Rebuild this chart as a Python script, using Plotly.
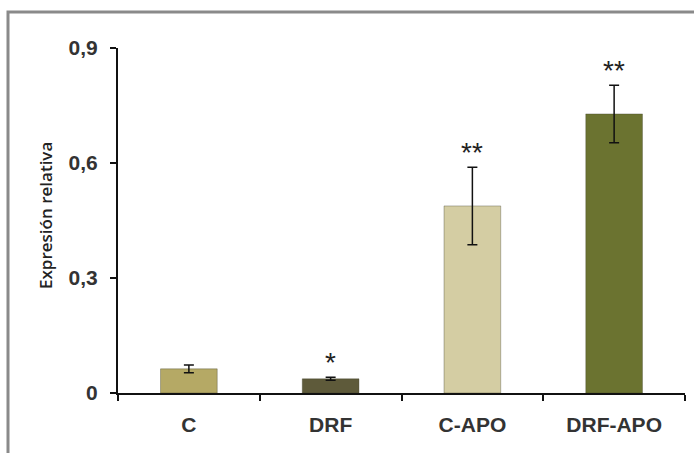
import plotly.graph_objects as go

categories = ["C", "DRF", "C-APO", "DRF-APO"]
values = [0.063, 0.037, 0.488, 0.728]
errors = [0.010, 0.004, 0.101, 0.075]
significance = ["", "*", "**", "**"]
bar_colors = ["#b5a965", "#5e5a3a", "#d4cda3", "#6b7330"]
y_ticks = [0, 0.3, 0.6, 0.9]
y_tick_text = ["0", "0,3", "0,6", "0,9"]

W, H = 694, 453
ml, mr, mt, mb = 118, 9, 48, 60
pw, ph = W - ml - mr, H - mt - mb

fig = go.Figure()
fig.add_trace(go.Bar(
    x=categories, y=values,
    marker=dict(color=bar_colors, line=dict(color="rgba(60,60,40,0.35)", width=1)),
    error_y=dict(type="data", array=errors, color="#111111", thickness=1.5, width=5),
    width=0.4,
    showlegend=False,
    hoverinfo="skip",
))

for c, v, e, s in zip(categories, values, errors, significance):
    if s:
        fig.add_annotation(x=c, y=v + e, text=s, showarrow=False,
                           yanchor="bottom", yshift=-3,
                           font=dict(family="Liberation Sans", size=28, color="#222222"))

# y-axis title
fig.add_annotation(xref="paper", yref="paper",
                   x=(45 - ml) / pw, y=(393 - 216) / ph,
                   text="Expresión relativa", textangle=-90, showarrow=False,
                   xanchor="center", yanchor="middle",
                   font=dict(family="Open Sans", size=17, weight=600, color="#222222"))

# outer frame (partially cut off at right/bottom)
fig.add_shape(type="rect", xref="paper", yref="paper",
              x0=(8 - ml) / pw, x1=(W + 20 - ml) / pw,
              y0=-(H + 20 - 393) / ph, y1=(393 - 12) / ph,
              line=dict(color="#8a8a8a", width=3), fillcolor="rgba(0,0,0,0)", layer="below")

tick_font = dict(family="Liberation Sans", size=21, weight="bold", color="#333333")

fig.update_layout(
    width=W, height=H,
    margin=dict(l=ml, r=mr, t=mt, b=mb),
    paper_bgcolor="white", plot_bgcolor="white",
    bargap=0.6,
    xaxis=dict(
        showline=True, linecolor="#111111", linewidth=2,
        ticks="outside", tickson="boundaries", ticklen=6, tickwidth=2, tickcolor="#111111",
        tickfont=tick_font, ticklabelstandoff=12,
        showgrid=False, zeroline=False, fixedrange=True,
    ),
    yaxis=dict(
        range=[0, 0.9], tickvals=y_ticks, ticktext=y_tick_text,
        showline=True, linecolor="#111111", linewidth=2,
        ticks="outside", ticklen=6, tickwidth=2, tickcolor="#111111",
        tickfont=tick_font, ticklabelstandoff=8,
        showgrid=False, zeroline=False, fixedrange=True,
    ),
)

fig.write_html("out.html", config={"displayModeBar": False},
               post_script="document.body.style.margin='0px';")
